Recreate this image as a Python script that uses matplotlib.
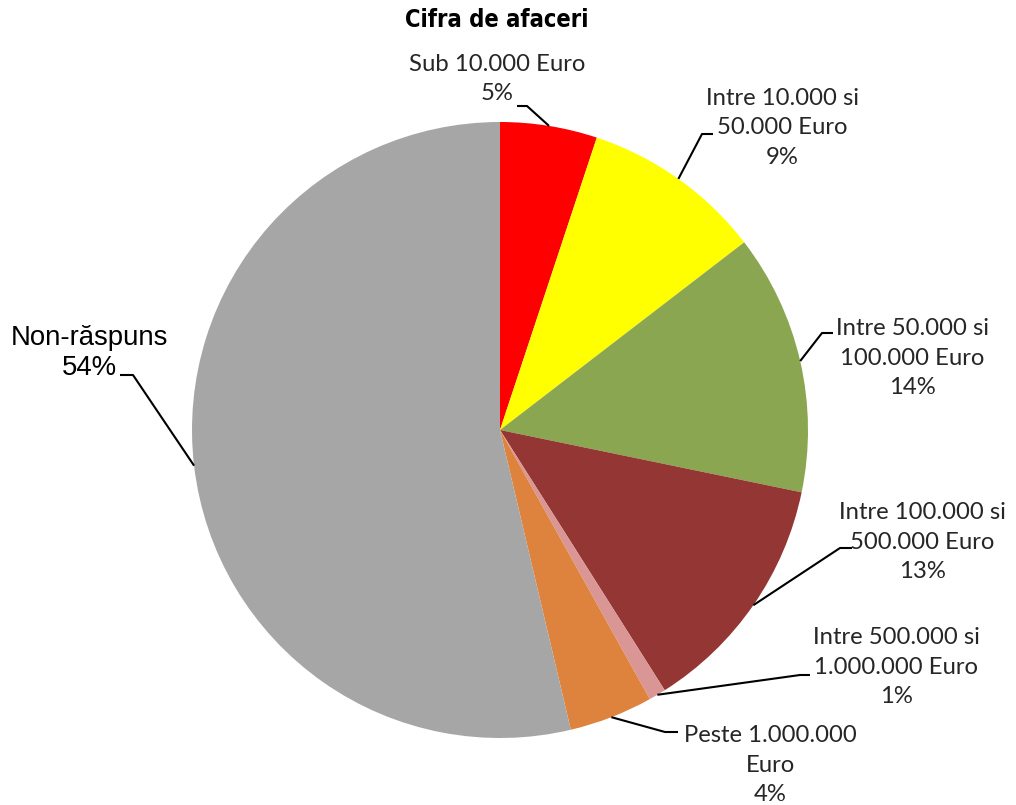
import numpy as np
import matplotlib
matplotlib.use("Agg")
import matplotlib.pyplot as plt

title = "Cifra de afaceri"
categories = ["Sub 10.000 Euro", "Intre 10.000 si\n50.000 Euro", "Intre 50.000 si\n100.000 Euro",
              "Intre 100.000 si\n500.000 Euro", "Intre 500.000 si\n1.000.000 Euro",
              "Peste 1.000.000\nEuro", "Non-răspuns"]
shares = [5.1, 9.5, 13.7, 12.8, 0.9, 4.4, 53.8]
pct_labels = ["5%", "9%", "14%", "13%", "1%", "4%", "54%"]
colors = ["#FF0000", "#FFFF00", "#8BA650", "#943634", "#D99694", "#DE833D", "#A6A6A6"]

# label layout (pixel coords): text centre, elbow of leader line, end of leader line
text_pos = [(497, 79), (782, 128), (912, 358), (922, 542), (896, 667), (770, 765), (89, 353)]
elbow = [(527, 106), (702, 134), (822, 333), (840, 548), (800, 675), (665, 732), (133, 375)]
line_end = [(517, 106), (713, 134), (833, 333), (852, 548), (810, 675), (678, 732), (120, 375)]

fig = plt.figure(figsize=(10.16, 8.05), dpi=100)
ax = fig.add_axes([0, 0, 1, 1])
cx, cy, r = 500, 430, 308
wedges, _ = ax.pie(shares, colors=colors, startangle=-90, counterclock=True,
                   center=(cx, cy), radius=r, wedgeprops=dict(linewidth=0))
ax.set_xlim(0, 1016)
ax.set_ylim(805, 0)
ax.set_aspect("equal")
ax.axis("off")

for i, w in enumerate(wedges):
    mid = np.deg2rad((w.theta1 + w.theta2) / 2)
    ax_pt = (cx + r * np.cos(mid), cy + r * np.sin(mid))
    ax.plot([ax_pt[0], elbow[i][0], line_end[i][0]], [ax_pt[1], elbow[i][1], line_end[i][1]],
            color="black", lw=1.5, solid_capstyle="butt")
    if i == 6:
        ax.text(text_pos[i][0], text_pos[i][1], categories[i] + "\n" + pct_labels[i],
                ha="center", va="center", fontsize=19.8, family="Liberation Sans",
                color="black", linespacing=1.2)
    else:
        ax.text(text_pos[i][0], text_pos[i][1], categories[i] + "\n" + pct_labels[i],
                ha="center", va="center", fontsize=17.2, family="Lato",
                color="#262626", linespacing=1.48)

ax.text(497, 20, title, ha="center", va="center", fontsize=17, fontweight="bold",
        family="DejaVu Sans", fontstretch="condensed", color="black")

fig.savefig("out.png", dpi=100)
